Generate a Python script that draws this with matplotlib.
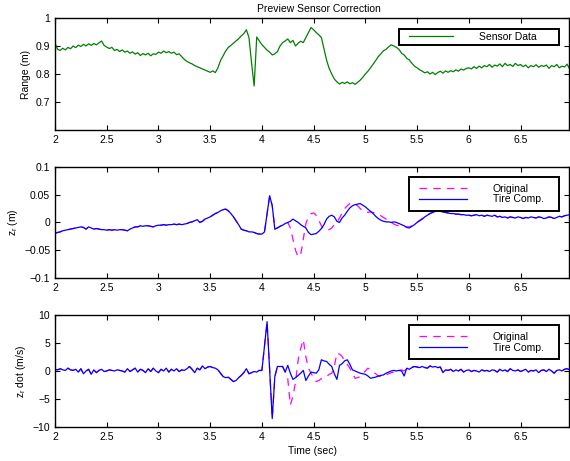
import numpy as np
import matplotlib
matplotlib.use('Agg')
import matplotlib.pyplot as plt
from matplotlib.lines import Line2D
from matplotlib.legend_handler import HandlerLine2D
from matplotlib.ticker import FuncFormatter

plt.rcParams['font.family'] = ['Liberation Sans', 'DejaVu Sans']
plt.rcParams['font.size'] = 7.5
plt.rcParams['mathtext.default'] = 'regular'

# sensor range (m), sampled every 0.025 s from t = 2.0
range_m = [
    0.91, 0.888, 0.884, 0.892, 0.886, 0.895, 0.89, 0.9, 0.894, 0.903, 0.898, 0.906, 0.9, 0.908, 0.902, 0.909, 0.904, 0.911, 0.918, 0.902,
    0.896, 0.891, 0.895, 0.884, 0.888, 0.88, 0.886, 0.878, 0.882, 0.874, 0.879, 0.871, 0.876, 0.866, 0.873, 0.868, 0.874, 0.865, 0.872, 0.87,
    0.878, 0.874, 0.882, 0.876, 0.88, 0.874, 0.878, 0.869, 0.872, 0.862, 0.852, 0.845, 0.84, 0.836, 0.83, 0.826, 0.822, 0.818, 0.814, 0.81,
    0.806, 0.811, 0.805, 0.822, 0.848, 0.865, 0.882, 0.895, 0.902, 0.91, 0.918, 0.926, 0.936, 0.944, 0.958, 0.93, 0.84, 0.757, 0.932, 0.918,
    0.905, 0.895, 0.885, 0.878, 0.868, 0.872, 0.88, 0.9, 0.912, 0.918, 0.925, 0.912, 0.92, 0.9, 0.91, 0.917, 0.912, 0.93, 0.948, 0.966,
    0.958, 0.948, 0.94, 0.93, 0.89, 0.85, 0.82, 0.8, 0.782, 0.772, 0.764, 0.77, 0.766, 0.772, 0.765, 0.769, 0.763, 0.77, 0.778, 0.788,
    0.8, 0.81, 0.822, 0.835, 0.848, 0.862, 0.872, 0.883, 0.888, 0.897, 0.904, 0.9, 0.895, 0.888, 0.874, 0.868, 0.856, 0.85, 0.838, 0.828,
    0.822, 0.815, 0.81, 0.804, 0.808, 0.8, 0.806, 0.798, 0.805, 0.81, 0.803, 0.811, 0.806, 0.812, 0.808, 0.815, 0.81, 0.818, 0.814, 0.82,
    0.822, 0.818, 0.826, 0.82, 0.828, 0.822, 0.83, 0.826, 0.834, 0.824, 0.832, 0.828, 0.836, 0.826, 0.838, 0.83, 0.834, 0.827, 0.838, 0.83,
    0.834, 0.826, 0.832, 0.822, 0.83, 0.826, 0.833, 0.824, 0.83, 0.827, 0.832, 0.82, 0.83, 0.826, 0.834, 0.822, 0.828, 0.825, 0.835, 0.818,
]

# z_r (m): original and tire compensated
zr_orig = [
    -0.02, -0.018, -0.017, -0.015, -0.014, -0.013, -0.012, -0.011, -0.01, -0.009, -0.008, -0.009, -0.012, -0.008, -0.01, -0.012, -0.011, -0.012, -0.013, -0.013,
    -0.014, -0.013, -0.014, -0.013, -0.014, -0.013, -0.013, -0.014, -0.015, -0.012, -0.01, -0.008, -0.008, -0.006, -0.007, -0.006, -0.006, -0.007, -0.008, -0.006,
    -0.005, -0.005, -0.004, -0.005, -0.004, -0.004, -0.003, -0.004, -0.003, -0.004, -0.003, -0.002, 0.0, 0.001, 0.003, 0.005, 0.0, 0.002, 0.006, 0.008,
    0.01, 0.013, 0.016, 0.018, 0.021, 0.023, 0.024, 0.021, 0.016, 0.01, 0.003, -0.004, -0.012, -0.014, -0.015, -0.017, -0.017, -0.018, -0.02, -0.021,
    -0.021, -0.017, 0.015, 0.048, 0.03, -0.012, -0.01, -0.007, -0.005, -0.002, 0.0, -0.01, -0.03, -0.05, -0.062, -0.058, -0.03, -0.002, 0.01, 0.016,
    0.017, 0.013, 0.004, -0.006, -0.012, -0.014, -0.013, -0.01, -0.004, 0.0, 0.008, 0.017, 0.025, 0.03, 0.034, 0.035, 0.033, 0.03, 0.025, 0.021,
    0.019, 0.018, 0.019, 0.018, 0.016, 0.014, 0.012, 0.009, 0.006, 0.003, 0.0, -0.003, -0.005, -0.006, -0.006, -0.007, -0.008, -0.008, -0.006, -0.003,
    0.0, 0.004, 0.007, 0.01, 0.013, 0.016, 0.018, 0.02, 0.021, 0.02, 0.019, 0.018, 0.017, 0.016, 0.016, 0.015, 0.015, 0.014, 0.014, 0.013,
    0.013, 0.012, 0.013, 0.014, 0.012, 0.013, 0.011, 0.013, 0.012, 0.011, 0.013, 0.01, 0.011, 0.009, 0.01, 0.008, 0.01, 0.009, 0.008, 0.01,
    0.009, 0.007, 0.009, 0.008, 0.01, 0.009, 0.008, 0.01, 0.009, 0.007, 0.008, 0.01, 0.009, 0.007, 0.009, 0.011, 0.01, 0.012, 0.013, 0.014,
]
zr_tire = [
    -0.02, -0.018, -0.017, -0.015, -0.014, -0.013, -0.012, -0.011, -0.01, -0.009, -0.008, -0.009, -0.012, -0.008, -0.01, -0.012, -0.011, -0.012, -0.013, -0.013,
    -0.014, -0.013, -0.014, -0.013, -0.014, -0.013, -0.013, -0.014, -0.015, -0.012, -0.01, -0.008, -0.008, -0.006, -0.007, -0.006, -0.006, -0.007, -0.008, -0.006,
    -0.005, -0.005, -0.004, -0.005, -0.004, -0.004, -0.003, -0.004, -0.003, -0.004, -0.003, -0.002, 0.0, 0.001, 0.003, 0.005, 0.0, 0.002, 0.006, 0.008,
    0.01, 0.013, 0.016, 0.018, 0.021, 0.023, 0.024, 0.021, 0.016, 0.01, 0.003, -0.004, -0.012, -0.014, -0.015, -0.017, -0.017, -0.018, -0.02, -0.021,
    -0.021, -0.017, 0.015, 0.048, 0.03, -0.012, -0.01, -0.007, -0.005, -0.002, 0.0, 0.002, 0.006, 0.003, 0.0, -0.004, -0.007, -0.01, -0.018, -0.022,
    -0.021, -0.02, -0.016, -0.011, -0.004, 0.006, 0.011, 0.013, 0.01, 0.002, 0.0, 0.008, 0.013, 0.02, 0.026, 0.03, 0.032, 0.033, 0.034, 0.031,
    0.028, 0.024, 0.02, 0.016, 0.011, 0.007, 0.004, 0.002, 0.001, 0.001, 0.0, 0.001, 0.0, -0.002, -0.004, -0.006, -0.009, -0.01, -0.007, -0.004,
    0.0, 0.003, 0.006, 0.01, 0.013, 0.016, 0.018, 0.02, 0.021, 0.02, 0.019, 0.018, 0.017, 0.016, 0.016, 0.015, 0.015, 0.014, 0.014, 0.013,
    0.013, 0.012, 0.013, 0.014, 0.012, 0.013, 0.011, 0.013, 0.012, 0.011, 0.013, 0.01, 0.011, 0.009, 0.01, 0.008, 0.01, 0.009, 0.008, 0.01,
    0.009, 0.007, 0.009, 0.008, 0.01, 0.009, 0.008, 0.01, 0.009, 0.007, 0.008, 0.01, 0.009, 0.007, 0.009, 0.011, 0.01, 0.012, 0.013, 0.014,
]

# z_r dot (m/s): original and tire compensated
zrdot_orig = [
    0.3, 0.2, 0.4, 0.2, 0.1, 0.5, 0.2, 0.1, 0.3, -0.2, 0.4, -0.5, 0.0, 0.3, -0.6, 0.2, -0.3, 0.1, 0.3, -0.1,
    0.0, 0.2, 0.1, 0.0, 0.2, 0.1, 0.0, -0.2, 0.4, -0.1, 0.2, 0.5, -0.2, 0.3, 0.1, -0.3, 0.4, -0.1, 0.5, 0.0,
    -0.3, 0.3, 0.0, 0.5, -0.2, 0.3, 0.0, 0.4, -0.1, 0.2, 0.1, 0.4, 0.8, 0.3, -0.3, 0.5, 0.2, 0.9, 0.4, 0.7,
    0.8, 0.6, 0.5, 0.2, -0.4, -1.0, -1.2, -1.1, -1.5, -1.9, -1.7, -1.2, -0.8, -0.3, 0.4, -0.5, -0.3, -0.1, -0.2, 0.1,
    0.1, 4.5, 8.8, 0.2, -8.5, -1.0, 0.8, 0.8, 0.8, -0.2, -1.4, -6.1, -4.5, -2.0, 1.9, 4.0, 5.6, 2.5, 0.5, -0.4,
    -1.2, -1.9, -1.7, -1.4, -1.3, -1.0, -0.6, -0.4, 0.8, 3.2, 3.0, 2.6, 1.8, 1.2, 0.5, -0.4, -1.3, -1.2, -1.0, -0.5,
    0.0, 0.5, 0.2, -0.2, -0.5, -0.9, -1.0, -0.8, -0.7, -0.5, -0.3, -0.2, 0.0, 0.1, 0.2, 0.0, 0.4, 0.5, 0.7, 0.8,
    0.7, 0.6, 0.8, 0.6, 0.5, 0.9, 0.7, 0.8, 0.6, 0.7, -0.3, 0.2, 0.1, 0.3, -0.1, 0.2, 0.0, 0.3, -0.2, 0.1,
    0.2, -0.1, 0.1, 0.0, -0.2, 0.2, 0.0, 0.1, -0.1, 0.2, 0.1, -0.2, 0.3, 0.0, 0.2, -0.1, 0.4, 0.1, 0.0, 0.2,
    -0.1, 0.1, 0.3, -0.2, 0.1, 0.0, 0.2, -0.3, 0.1, 0.2, -0.1, 0.3, 0.0, -0.4, 0.1, 0.2, 0.0, 0.3, 0.4, 0.2,
]
zrdot_tire = [
    0.3, 0.2, 0.4, 0.2, 0.1, 0.5, 0.2, 0.1, 0.3, -0.2, 0.4, -0.5, 0.0, 0.3, -0.6, 0.2, -0.3, 0.1, 0.3, -0.1,
    0.0, 0.2, 0.1, 0.0, 0.2, 0.1, 0.0, -0.2, 0.4, -0.1, 0.2, 0.5, -0.2, 0.3, 0.1, -0.3, 0.4, -0.1, 0.5, 0.0,
    -0.3, 0.3, 0.0, 0.5, -0.2, 0.3, 0.0, 0.4, -0.1, 0.2, 0.1, 0.4, 0.8, 0.3, -0.3, 0.5, 0.2, 0.9, 0.4, 0.7,
    0.8, 0.6, 0.5, 0.2, -0.4, -1.0, -1.2, -1.1, -1.5, -1.9, -1.7, -1.2, -0.8, -0.3, 0.4, -0.5, -0.3, -0.1, -0.2, 0.1,
    0.1, 4.5, 8.8, 0.2, -8.5, -1.0, 0.8, 0.8, 0.8, -0.2, 1.0, -0.4, -1.5, -1.2, -0.8, -0.4, 0.1, -1.7, -0.9, -0.2,
    -0.3, -0.4, 0.2, 2.0, 1.8, 1.7, 1.2, 0.8, -0.5, -1.5, 1.0, 1.3, 1.8, 2.0, 1.2, 0.2, 0.0, -0.2, -0.4, -0.5,
    -0.6, -0.9, -1.3, -1.2, -1.1, -0.9, -0.8, -0.7, -0.4, -0.2, 0.0, 0.1, 0.0, 0.1, 0.0, -0.9, 0.5, 0.3, 0.6, 0.8,
    0.7, 0.6, 0.8, 0.6, 0.5, 0.9, 0.7, 0.8, 0.6, 0.7, -0.3, 0.2, 0.1, 0.3, -0.1, 0.2, 0.0, 0.3, -0.2, 0.1,
    0.2, -0.1, 0.1, 0.0, -0.2, 0.2, 0.0, 0.1, -0.1, 0.2, 0.1, -0.2, 0.3, 0.0, 0.2, -0.1, 0.4, 0.1, 0.0, 0.2,
    -0.1, 0.1, 0.3, -0.2, 0.1, 0.0, 0.2, -0.3, 0.1, 0.2, -0.1, 0.3, 0.0, -0.4, 0.1, 0.2, 0.0, 0.3, 0.4, 0.2,
]

t = np.linspace(2.0, 6.975, len(range_m))

fs = 7.5
px_per_fs = fs * 100 / 72
fmt = FuncFormatter(lambda v, p: f'{v:g}'.replace('-', '\u2212'))

fig = plt.figure(figsize=(5.7, 4.61), dpi=100)
ax1 = fig.add_axes([0.0965, 0.718, 0.902, 0.243])
ax2 = fig.add_axes([0.0965, 0.397, 0.902, 0.241])
ax3 = fig.add_axes([0.0965, 0.0738, 0.902, 0.243])

ax1.plot(t, range_m, color='#008000', lw=0.9, label='Sensor Data')
ax2.plot(t, zr_orig, color='#ff00ff', lw=0.9, ls=(0, (6, 5)), label='Original')
ax2.plot(t, zr_tire, color='#0000ff', lw=0.9, label='Tire Comp.')
ax3.plot(t, zrdot_orig, color='#ff00ff', lw=0.9, ls=(0, (6, 5)), label='Original')
ax3.plot(t, zrdot_tire, color='#0000ff', lw=0.9, label='Tire Comp.')

ax1.set_ylim(0.6, 1)
ax1.set_yticks([0.7, 0.8, 0.9, 1])
ax2.set_ylim(-0.1, 0.1)
ax2.set_yticks([-0.1, -0.05, 0, 0.05, 0.1])
ax3.set_ylim(-10, 10)
ax3.set_yticks([-10, -5, 0, 5, 10])

for ax in (ax1, ax2, ax3):
    ax.set_xlim(2, 6.97)
    ax.set_xticks(np.arange(2, 7, 0.5))
    ax.xaxis.set_major_formatter(fmt)
    ax.yaxis.set_major_formatter(fmt)
    ax.tick_params(direction='in', top=True, right=True, length=3.5, width=0.8,
                   labelsize=fs, pad=3.5)
    for s in ax.spines.values():
        s.set_linewidth(1.0)

ax1.set_title('Preview Sensor Correction', fontsize=fs, x=(319 - 55) / 514, pad=4)
ax1.set_ylabel('Range (m)', fontsize=fs, labelpad=3)
ax2.set_ylabel('z$_r$ (m)', fontsize=fs, labelpad=3)
ax3.set_ylabel('z$_r$ dot (m/s)', fontsize=fs, labelpad=3)
ax3.set_xlabel('Time (sec)', fontsize=fs, labelpad=3)


def add_legend(ax, x0, y_top, bp, sp):
    # line sample starts about 10 px inside the frame, text about 77 px in
    xpad = (10 - bp * px_per_fs) / px_per_fs
    leg = ax.legend(loc='upper left', bbox_to_anchor=(x0, y_top - 0.3, 0.98 - x0, 0.3),
                    mode='expand', borderaxespad=0, fancybox=False, framealpha=1,
                    edgecolor='black', fontsize=fs, borderpad=bp, labelspacing=sp,
                    handlelength=4.9, handletextpad=2.5,
                    handler_map={Line2D: HandlerLine2D(xpad=xpad)})
    leg.get_frame().set_linewidth(1.4)
    return leg


add_legend(ax1, 0.669, 0.902, 0.3, 0.0)
add_legend(ax2, 0.688, 0.91, 0.65, 0.08)
add_legend(ax3, 0.688, 0.91, 0.65, 0.08)

fig.savefig('out.png', dpi=100)
